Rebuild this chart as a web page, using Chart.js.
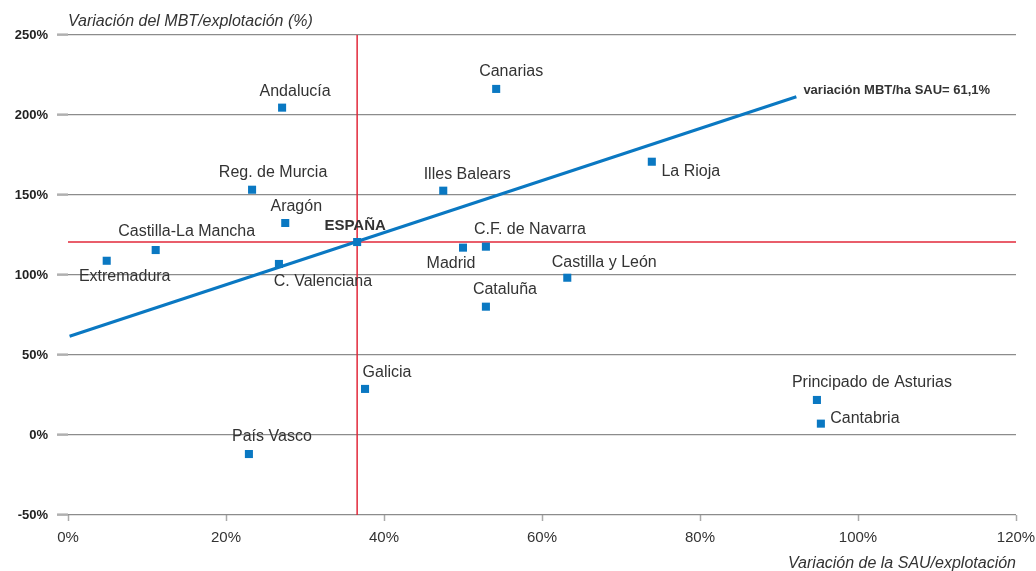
<!DOCTYPE html>
<html>
<head>
<meta charset="utf-8">
<script src="https://cdn.jsdelivr.net/npm/chart.js@4.4.1/dist/chart.umd.min.js"></script>
<style>
  html, body { margin: 0; padding: 0; background: #fff; }
  #wrap { position: relative; width: 1036px; height: 571px; }
</style>
</head>
<body>
<div id="wrap"><canvas id="scatterChart" width="1036" height="571"></canvas></div>
<script>
// regions and their values (x: variación SAU/explotación %, y: variación MBT/explotación %)
var regions = ["Extremadura", "Castilla-La Mancha", "Reg. de Murcia", "Andalucía", "Aragón",
  "C. Valenciana", "País Vasco", "Galicia", "Illes Balears", "Madrid", "C.F. de Navarra",
  "Cataluña", "Canarias", "Castilla y León", "La Rioja", "Principado de Asturias", "Cantabria"];
var sauVar = [4.9, 11.1, 23.3, 27.1, 27.5, 26.7, 22.9, 37.6, 47.5, 50.0, 52.9, 52.9, 54.2, 63.2, 73.9, 94.8, 95.3];
var mbtVar = [108.9, 115.6, 153.3, 204.6, 132.5, 106.9, -11.9, 28.8, 152.7, 117.1, 117.7, 80.2, 216.3, 98.3, 170.8, 21.9, 7.1];

var spainSau = 36.6;
var spainMbt = 120.6;

var trendX = [0.2, 92.2];
var trendY = [61.7, 211.4];
var trendLabel = "variación MBT/ha SAU= 61,1%";

var xTicks = [0, 20, 40, 60, 80, 100, 120];
var yTicks = [-50, 0, 50, 100, 150, 200, 250];

// label offsets in px from the marker (text centre)
var labelOffsets = [[18, 16], [31, -18], [21, -17], [13, -16], [11, -16], [44, 18], [23, -17],
  [22, -16], [24, -16], [-12, 16], [44, -17], [19, -17], [15, -17], [37, -15], [39, 10], [55, -17], [44, -5]];

var blue = '#0a78c2';
var red = '#e2283a';

var points = [];
for (var i = 0; i < regions.length; i++) {
  points.push({x: sauVar[i], y: mbtVar[i]});
}

var labelPlugin = {
  id: 'pointLabels',
  afterDatasetsDraw: function(chart) {
    var ctx = chart.ctx;
    var xs = chart.scales.x, ys = chart.scales.y;
    ctx.save();
    ctx.textAlign = 'center';
    ctx.textBaseline = 'middle';
    ctx.fillStyle = '#333';
    ctx.font = '16px "Liberation Sans", Arial, sans-serif';
    for (var i = 0; i < regions.length; i++) {
      var px = xs.getPixelForValue(sauVar[i]);
      var py = ys.getPixelForValue(mbtVar[i]);
      ctx.fillText(regions[i], px + labelOffsets[i][0], py + labelOffsets[i][1]);
    }
    // España
    ctx.font = 'bold 15px "Liberation Sans", Arial, sans-serif';
    ctx.fillText('ESPAÑA', xs.getPixelForValue(spainSau) - 2, ys.getPixelForValue(spainMbt) - 16);
    // trend label
    ctx.textAlign = 'left';
    ctx.font = 'bold 13px "Liberation Sans", Arial, sans-serif';
    ctx.fillText(trendLabel, xs.getPixelForValue(trendX[1]) + 7, ys.getPixelForValue(trendY[1]) - 6);
    // axis titles
    ctx.font = 'italic 16px "Liberation Sans", Arial, sans-serif';
    ctx.fillText('Variación del MBT/explotación (%)', chart.chartArea.left, 22);
    ctx.textAlign = 'right';
    ctx.fillText('Variación de la SAU/explotación', chart.chartArea.right, 564);
    ctx.restore();
  }
};

var ctx = document.getElementById('scatterChart').getContext('2d');
var chart = new Chart(ctx, {
  type: 'scatter',
  data: {
    datasets: [
      {
        label: 'Regiones',
        data: points,
        pointStyle: 'rect',
        pointRadius: 5.7,
        backgroundColor: blue,
        borderWidth: 0,
        order: 1
      },
      {
        label: 'España',
        data: [{x: spainSau, y: spainMbt}],
        pointStyle: 'rect',
        pointRadius: 5.7,
        backgroundColor: blue,
        borderWidth: 0,
        order: 0
      },
      {
        type: 'line',
        label: 'Tendencia',
        data: [{x: trendX[0], y: trendY[0]}, {x: trendX[1], y: trendY[1]}],
        borderColor: blue,
        borderWidth: 3,
        pointRadius: 0,
        order: 2
      },
      {
        type: 'line',
        label: 'España SAU',
        data: [{x: spainSau, y: yTicks[0]}, {x: spainSau, y: yTicks[yTicks.length - 1]}],
        borderColor: red,
        borderWidth: 1.5,
        pointRadius: 0,
        order: 3
      },
      {
        type: 'line',
        label: 'España MBT',
        data: [{x: xTicks[0], y: spainMbt}, {x: xTicks[xTicks.length - 1], y: spainMbt}],
        borderColor: red,
        borderWidth: 1.5,
        pointRadius: 0,
        order: 3
      }
    ]
  },
  options: {
    responsive: false,
    animation: false,
    layout: { padding: { top: 35, right: 0, left: 0, bottom: 0 } },
    plugins: {
      legend: { display: false },
      tooltip: { enabled: false }
    },
    scales: {
      x: {
        type: 'linear',
        min: 0,
        max: 120,
        afterFit: function(scale) {
          scale.height = 56;
          scale.paddingRight = 20;
          scale.paddingLeft = 0;
        },
        afterBuildTicks: function(scale) {
          scale.ticks = xTicks.map(function(v) { return {value: v}; });
        },
        border: { display: false },
        grid: {
          drawOnChartArea: false,
          drawTicks: true,
          tickLength: 6,
          tickColor: '#aaa',
          tickWidth: 1.5
        },
        ticks: {
          color: '#333',
          padding: 8,
          font: { family: '"Liberation Sans", Arial, sans-serif', size: 15 },
          callback: function(v) { return v + '%'; }
        }
      },
      y: {
        type: 'linear',
        min: -50,
        max: 250,
        afterFit: function(scale) { scale.width = 68; },
        afterBuildTicks: function(scale) {
          scale.ticks = yTicks.map(function(v) { return {value: v}; });
        },
        border: { display: false },
        grid: {
          color: '#8c8c8c',
          lineWidth: 1.3,
          drawTicks: true,
          tickLength: 11,
          tickColor: '#b0b0b0',
          tickWidth: 2.5
        },
        ticks: {
          color: '#222',
          padding: 9,
          font: { family: '"Liberation Sans", Arial, sans-serif', size: 13, weight: 'bold' },
          callback: function(v) { return v + '%'; }
        }
      }
    }
  },
  plugins: [labelPlugin]
});
</script>
</body>
</html>
